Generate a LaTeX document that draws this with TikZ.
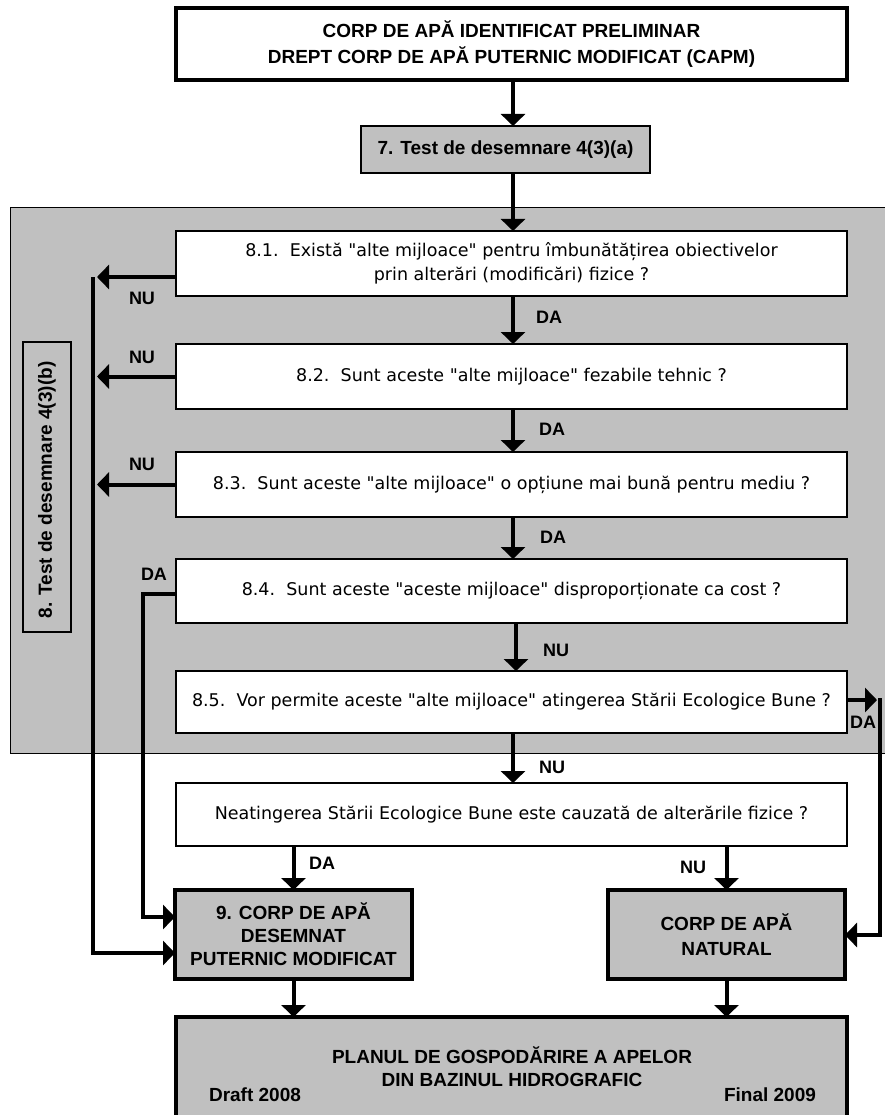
\documentclass[tikz,border=0pt]{standalone}
\usepackage{fontspec}
\setmainfont{Liberation Sans}
\newfontfamily\qfont{DejaVu Sans}
\usetikzlibrary{arrows.meta}
\definecolor{panelgray}{HTML}{C0C0C0}

\begin{document}
\begin{tikzpicture}[x=1pt,y=-1pt,
  every node/.style={inner sep=0pt, outer sep=0pt},
  qbox/.style={draw=black, line width=1.5pt, fill=white, minimum width=671pt,
    font=\qfont\fontsize{17.5}{24}\selectfont, align=center},
  heavybox/.style={draw=black, line width=4pt, fill=panelgray,
    font=\bfseries\fontsize{19}{23}\selectfont, align=center},
  lightbox/.style={draw=black, line width=1.5pt, fill=panelgray,
    font=\bfseries\fontsize{19}{23}\selectfont, align=center},
  lbl/.style={font=\bfseries\fontsize{18}{18}\selectfont},
  plain/.style={font=\bfseries\fontsize{19}{23}\selectfont, align=center},
  flow/.style={line width=4pt, -{Triangle[length=12pt,width=24pt]}},
]
\useasboundingbox (0,0) rectangle (885,1115);
\clip (0,0) rectangle (885,1115);

% shaded panel of test 8
\fill[panelgray, draw=black, line width=1pt] (10,208) rectangle (890,753);

% boxes
\node[draw=black, line width=4pt, fill=white, minimum width=671pt, minimum height=72pt,
  font=\bfseries\fontsize{19}{26}\selectfont, align=center]
  (top) at (511.5,44) {CORP DE APĂ IDENTIFICAT PRELIMINAR\\DREPT CORP DE APĂ PUTERNIC MODIFICAT (CAPM)};
\node[lightbox, minimum width=289pt, minimum height=47pt] (t7) at (505.5,149.5) {7. Test de desemnare 4(3)(a)};
\node[lightbox, line width=1.2pt, minimum width=48pt, minimum height=290pt] (side) at (47,487) {};
\node[plain, rotate=90] (sidetxt) at (47,490) {8. Test de desemnare 4(3)(b)};

\node[qbox, minimum height=65pt] (q1) at (511.5,263.5)
  {8.1.\ \ Există "alte mijloace" pentru îmbunătățirea obiectivelor\\prin alterări (modificări) fizice ?};
\node[qbox, minimum height=65pt] (q2) at (511.5,376.5)
  {8.2.\ \ Sunt aceste "alte mijloace" fezabile tehnic ?};
\node[qbox, minimum height=65pt] (q3) at (511.5,484.5)
  {8.3.\ \ Sunt aceste "alte mijloace" o opțiune mai bună pentru mediu ?};
\node[qbox, minimum height=64pt] (q4) at (511.5,591)
  {8.4.\ \ Sunt aceste "aceste mijloace" disproporționate ca cost ?};
\node[qbox, minimum height=62pt] (q5) at (511.5,702)
  {8.5.\ \ Vor permite aceste "alte mijloace" atingerea Stării Ecologice Bune ?};
\node[qbox, minimum height=63pt] (q6) at (511.5,814.5)
  {Neatingerea Stării Ecologice Bune este cauzată de alterările fizice ?};

\node[heavybox, minimum width=237pt, minimum height=89pt] (b9) at (293.5,934.5)
  {9. CORP DE APĂ\\DESEMNAT\\PUTERNIC MODIFICAT};
\node[heavybox, minimum width=237pt, minimum height=89pt,
  font=\bfseries\fontsize{19}{25}\selectfont] (nat) at (726.5,934.5)
  {CORP DE APĂ\\NATURAL};
\node[heavybox, minimum width=671pt, minimum height=113pt] (plan) at (511.5,1073.5) {};
\node[plain] (plantxt) at (512,1066.5) {PLANUL DE GOSPODĂRIRE A APELOR\\DIN BAZINUL HIDROGRAFIC};
\node[plain] (draft) at (255,1095) {Draft 2008};
\node[plain] (final) at (770,1095) {Final 2009};

% reference columns and bends
\coordinate (cx) at (513,0);
\coordinate (cx4) at (516,0);
\coordinate (tipL) at (97,0);
\coordinate (vtop) at (93,277);
\coordinate (vbot) at (93,953);
\coordinate (d4a) at (143,594);
\coordinate (d4b) at (143,917);
\coordinate (r1) at (877,700);
\coordinate (r2) at (880,698);
\coordinate (r3) at (880,935);

% main column
\draw[flow] (top.south -| cx) -- (t7.north -| cx);
\draw[flow] (t7.south -| cx) -- (q1.north -| cx);
\draw[flow] (q1.south -| cx) -- (q2.north -| cx);
\draw[flow] (q2.south -| cx) -- (q3.north -| cx);
\draw[flow] (q3.south -| cx) -- (q4.north -| cx);
\draw[flow] (q4.south -| cx4) -- (q5.north -| cx4);
\draw[flow] (q5.south -| cx) -- (q6.north -| cx);

% NU branches to the left rail
\draw[flow] (q1.west |- vtop) -- (tipL |- vtop);
\draw[flow] (q2.west) -- (q2.west -| tipL);
\draw[flow] (q3.west) -- (q3.west -| tipL);
\draw[flow] (vtop) -- (vbot) -- (b9.west |- vbot);

% DA branch of 8.4
\draw[flow] (q4.west |- d4a) -- (d4a) -- (d4b) -- (b9.west |- d4b);

% DA branch of 8.5
\draw[flow] (q5.east |- r1) -- (r1);
\draw[flow] (r2) -- (r3) -- (nat.east |- r3);

% outcomes
\draw[flow] (q6.south -| b9) -- (b9.north);
\draw[flow] (q6.south -| nat) -- (nat.north);
\draw[flow] (b9.south) -- (plan.north -| b9);
\draw[flow] (nat.south) -- (plan.north -| nat);

% branch labels
\node[lbl] (nu1) at (142,298) {NU};
\node[lbl] (nu2) at (142,357) {NU};
\node[lbl] (nu3) at (142,464) {NU};
\node[lbl] (da1) at (549,317) {DA};
\node[lbl] (da2) at (552,429) {DA};
\node[lbl] (da3) at (553,537) {DA};
\node[lbl] (da4) at (154,574) {DA};
\node[lbl] (nu4) at (556,650) {NU};
\node[lbl] (da5) at (863,722) {DA};
\node[lbl] (nu5) at (552,767) {NU};
\node[lbl] (da6) at (322,863) {DA};
\node[lbl] (nu6) at (693,867) {NU};
\end{tikzpicture}
\end{document}
